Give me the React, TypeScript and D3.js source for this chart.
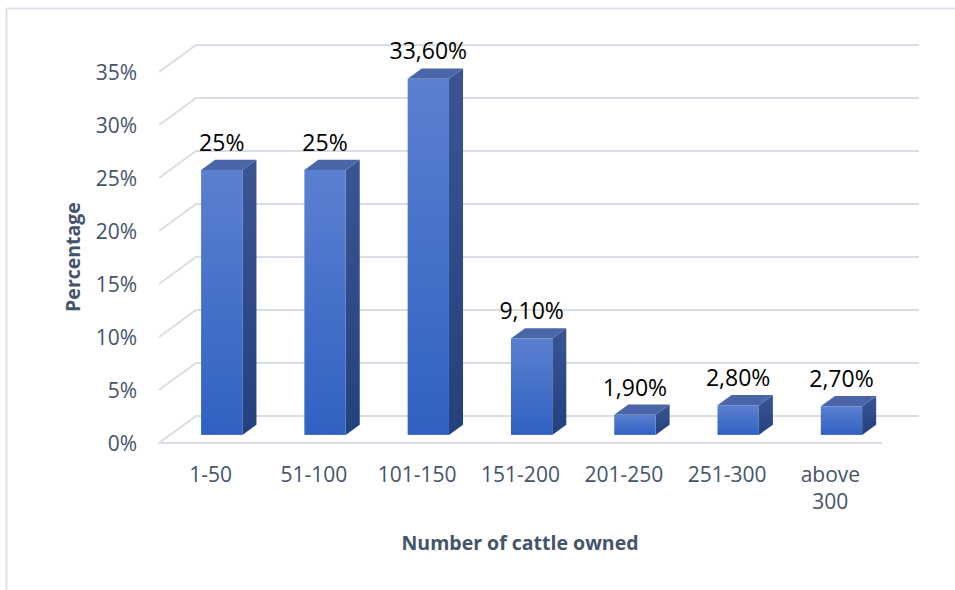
import React from "react";
import * as d3 from "d3";

// chart data
const categories = ["1-50", "51-100", "101-150", "151-200", "201-250", "251-300", "above 300"];
const percentValues = [25, 25, 33.6, 9.1, 1.9, 2.8, 2.7];
const valueLabels = ["25%", "25%", "33,60%", "9,10%", "1,90%", "2,80%", "2,70%"];
const yTicks = [0, 5, 10, 15, 20, 25, 30, 35];

const WIDTH = 955;
const HEIGHT = 590;

// 3d look: depth vector of the floor
const DEPTH_X = 37;
const DEPTH_Y = -27;
const BAR_FRONT = 0.3;
const BAR_BACK = 0.68;

const axisColor = "#44546a";
const gridColor = "#d9dde6";
const font = "'Open Sans', 'Noto Sans', sans-serif";

export default function App() {
  const xScale = d3
    .scaleBand<string>()
    .domain(categories)
    .range([159, 882])
    .paddingInner(0.6)
    .paddingOuter(0.3);

  const yScale = d3.scaleLinear().domain([0, 35]).range([443, 72]);

  const bw = xScale.bandwidth();

  // projection of a point at a given depth fraction
  const px = (x: number, d: number) => x + DEPTH_X * d;
  const py = (y: number, d: number) => y + DEPTH_Y * d;

  const x0 = xScale.range()[0];
  const x1 = xScale.range()[1];

  return (
    <div style={{ position: "absolute", left: 0, top: 0 }}>
      <svg width={WIDTH} height={HEIGHT} style={{ display: "block", background: "#fff" }}>
        <defs>
          <linearGradient id="frontGrad" x1="0" y1="0" x2="0" y2="1">
            <stop offset="0%" stopColor="#5b80d0" />
            <stop offset="100%" stopColor="#3061c2" />
          </linearGradient>
          <linearGradient id="sideGrad" x1="0" y1="0" x2="0" y2="1">
            <stop offset="0%" stopColor="#3b5594" />
            <stop offset="100%" stopColor="#22417d" />
          </linearGradient>
        </defs>

        {/* outer border */}
        <line x1={6} y1={8.5} x2={WIDTH} y2={8.5} stroke="#dde2ea" strokeWidth={2} />
        <line x1={6.5} y1={8} x2={6.5} y2={HEIGHT} stroke="#dde2ea" strokeWidth={2} />

        {/* gridlines on side and back wall */}
        {yTicks.map(t => {
          const yf = yScale(t);
          return (
            <polyline
              key={"g" + t}
              points={`${x0},${yf} ${px(x0, 1)},${py(yf, 1)} ${px(x1, 1)},${py(yf, 1)}`}
              fill="none"
              stroke={gridColor}
              strokeWidth={2}
            />
          );
        })}
        {/* floor front edge */}
        <line x1={x0} y1={yScale(0)} x2={x1} y2={yScale(0)} stroke={gridColor} strokeWidth={2} />

        {/* y tick labels */}
        {yTicks.map(t => (
          <text
            key={"t" + t}
            x={137}
            y={yScale(t) + 2}
            textAnchor="end"
            dominantBaseline="middle"
            fontFamily={font}
            fontSize={21}
            fill={axisColor}
          >
            {t + "%"}
          </text>
        ))}

        {/* bars */}
        {categories.map((c, i) => {
          const v = percentValues[i];
          const bx = xScale(c) as number;
          const yTop = yScale(v);
          const yBot = yScale(0);
          const fl = px(bx, BAR_FRONT);
          const fr = px(bx + bw, BAR_FRONT);
          const ft = py(yTop, BAR_FRONT);
          const fb = py(yBot, BAR_FRONT);
          const bl = px(bx, BAR_BACK);
          const br = px(bx + bw, BAR_BACK);
          const bt = py(yTop, BAR_BACK);
          const bb = py(yBot, BAR_BACK);
          return (
            <g key={c}>
              <polygon
                points={`${fr},${ft} ${br},${bt} ${br},${bb} ${fr},${fb}`}
                fill="url(#sideGrad)"
              />
              <polygon
                points={`${fl},${ft} ${bl},${bt} ${br},${bt} ${fr},${ft}`}
                fill="#4a66a9"
              />
              <rect x={fl} y={ft} width={fr - fl} height={fb - ft} fill="url(#frontGrad)" />
              <text
                x={(fl + fr) / 2}
                y={bt - 9}
                textAnchor="middle"
                fontFamily={font}
                fontSize={23}
                fill="#000"
              >
                {valueLabels[i]}
              </text>
            </g>
          );
        })}

        {/* category labels */}
        {categories.map(c => {
          const cx = (xScale(c) as number) + bw / 2;
          const words = c === "above 300" ? ["above", "300"] : [c];
          return (
            <text
              key={"c" + c}
              x={cx}
              y={482}
              textAnchor="middle"
              fontFamily={font}
              fontSize={21}
              fill={axisColor}
            >
              {words.map((w, k) => (
                <tspan key={k} x={cx} dy={k === 0 ? 0 : 27}>
                  {w}
                </tspan>
              ))}
            </text>
          );
        })}

        {/* axis titles */}
        <text
          x={520}
          y={550}
          textAnchor="middle"
          fontFamily={font}
          fontSize={19.5}
          fontWeight="bold"
          fill={axisColor}
        >
          Number of cattle owned
        </text>
        <text
          transform="translate(80,257) rotate(-90)"
          textAnchor="middle"
          fontFamily={font}
          fontSize={19.5}
          fontWeight="bold"
          fill={axisColor}
        >
          Percentage
        </text>
      </svg>
    </div>
  );
}
